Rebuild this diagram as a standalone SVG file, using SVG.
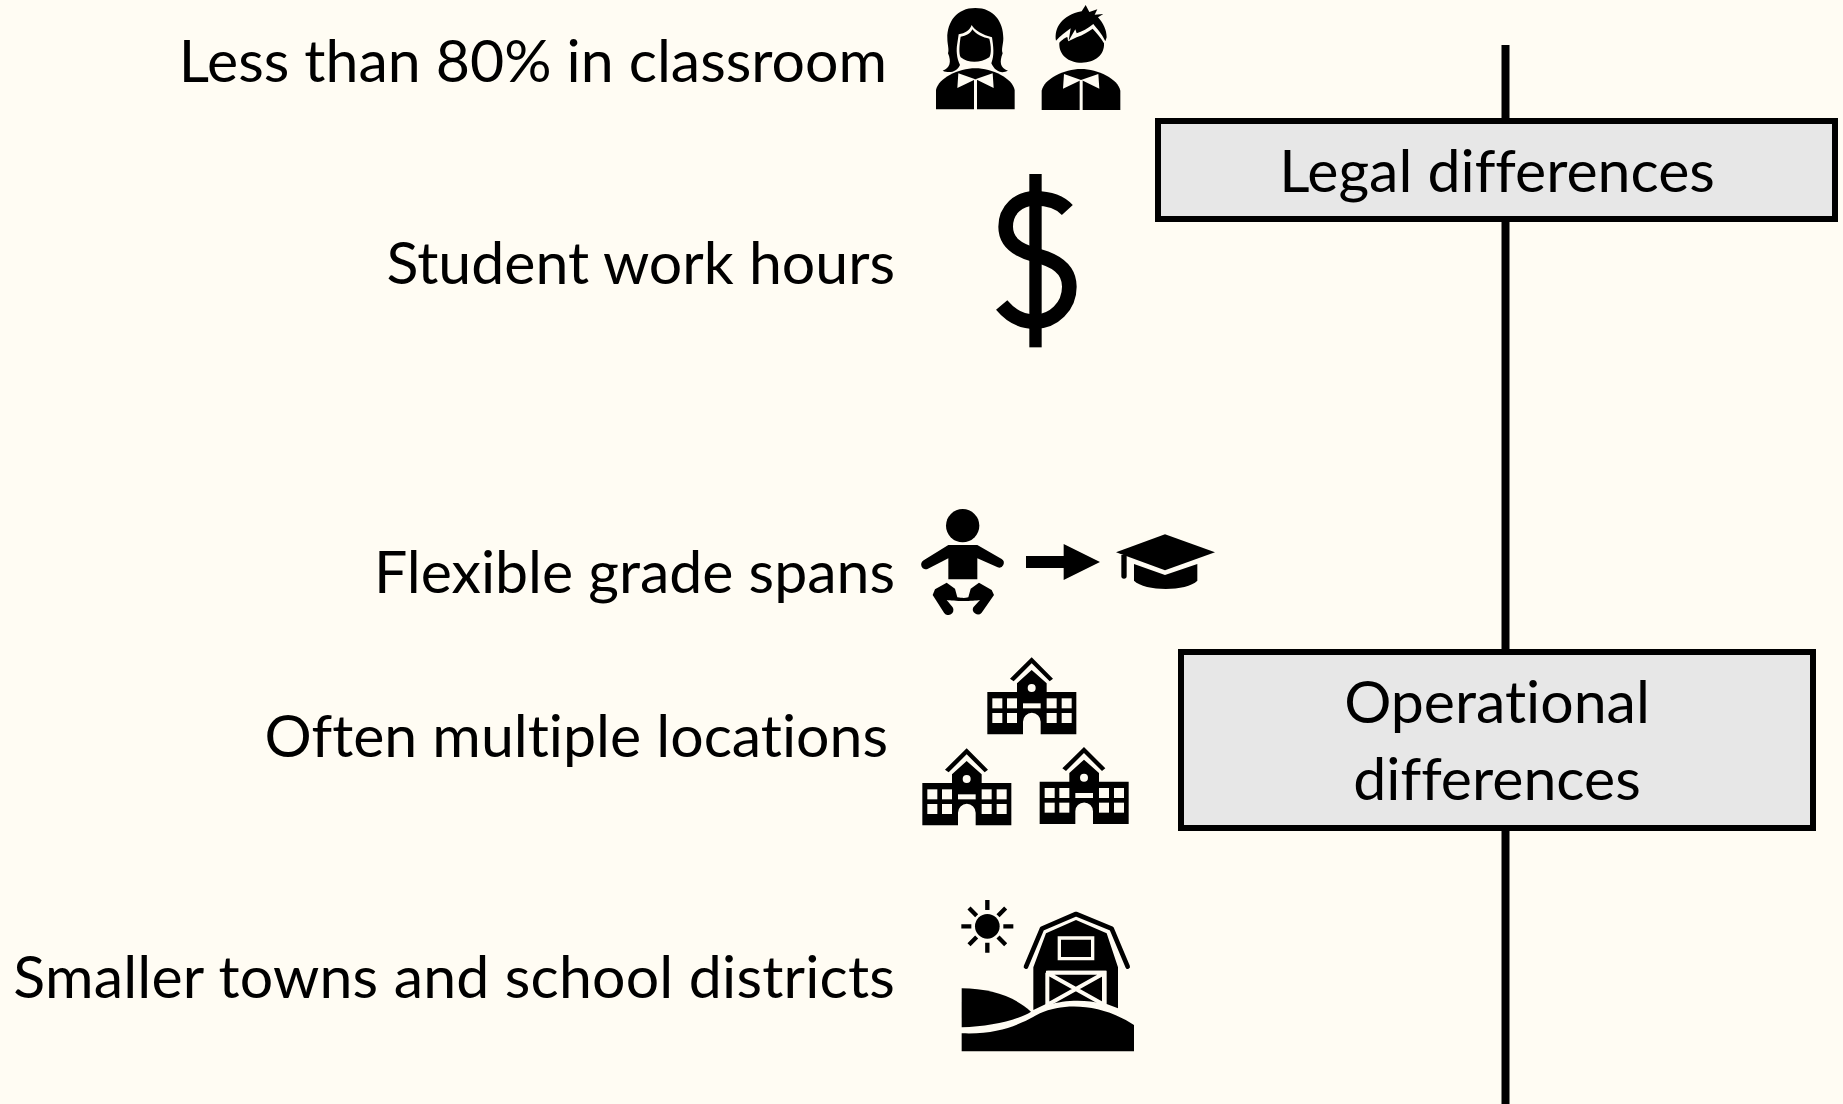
<svg xmlns="http://www.w3.org/2000/svg" width="1843" height="1104" viewBox="0 0 1843 1104">
<style>
text{font-family:"Lato","Liberation Sans",sans-serif;font-size:59px;fill:#000;font-variant-ligatures:none}
.l{text-anchor:end}
.c{text-anchor:middle}
.box{fill:#e7e7e7;stroke:#000;stroke-width:6}
.ln{stroke:#000;stroke-width:8;fill:none}
.w{fill:#fffcf3}
.wl{fill:none;stroke:#fffcf3}
</style>
<defs>
<g id="school">
<path d="M330 116L395 52L459 116L449 124L395 70L341 124Z"/>
<path d="M262 156H351V130L395 90L440 130V156H529V283H422V245A26 26 0 0 0 369 245V283H262Z"/>
<g class="w"><circle cx="395" cy="144" r="12"/><rect x="369" y="190" width="53" height="15"/>
<rect x="277" y="175" width="30" height="30"/><rect x="321" y="175" width="30" height="30"/><rect x="277" y="219" width="30" height="30"/><rect x="321" y="219" width="30" height="30"/>
<rect x="440" y="175" width="30" height="30"/><rect x="485" y="175" width="30" height="30"/><rect x="440" y="219" width="30" height="30"/><rect x="485" y="219" width="30" height="30"/></g>
</g>
<g id="torso"><path d="M108 328V270C115 235 175 205 226 205C277 205 337 235 344 270V328Z"/><path class="w" d="M226 238L175 220L172 264L222 240ZM226 238L278 220L281 264L232 240Z"/><rect class="w" x="222" y="238" width="9" height="92"/></g>
</defs>
<rect width="1843" height="1104" fill="#fffcf3"/>
<g id="connectors"><path class="ln" d="M1505.500 45V1104"/></g>
<g id="legal"><rect class="box" x="1158" y="121" width="677" height="98"/><text class="c" x="1497" y="192">Legal differences</text></g>
<g id="operational"><rect class="box" x="1181" y="652" width="632" height="176"/><text class="c" x="1497" y="723">Operational</text><text class="c" x="1497" y="800">differences</text></g>
<g id="n1"><text class="l" x="887" y="82">Less than 80% in classroom</text>
<g transform="translate(900,0) scale(.33333)">
<path d="M226 24C170 24 142 65 142 115C142 135 148 148 144 160C155 185 150 205 128 212C150 222 172 214 180 195C170 175 168 150 172 130L176 103C195 100 210 90 215 75C222 90 250 105 276 112C280 140 284 165 274 190C285 215 305 222 324 212C300 205 298 185 308 160C303 148 310 135 310 115C310 65 282 24 226 24Z"/>
<path d="M182 110C198 108 212 100 217 88C228 103 250 113 268 116C274 140 274 160 268 172C240 190 205 190 182 172C176 160 178 135 182 110Z"/>
<use href="#torso"/></g>
<g transform="translate(900,0) scale(.33333)">
<path d="M557 15L568 36L592 28L584 44L610 42L594 52C610 70 620 90 620 112L616 124C605 100 590 85 580 72C565 85 545 95 530 100L526 88L506 122L512 85C498 95 480 108 468 122C462 85 485 45 545 34Z"/>
<path d="M478 128C492 115 505 105 503 118L505 124L530 112C550 105 565 95 578 86C590 100 605 115 612 130C614 165 585 188 545 188C505 188 476 165 478 128Z"/>
<use href="#torso" x="317" y="2"/></g></g>
<g id="n2"><text class="l" x="895" y="284">Student work hours</text>
<g transform="translate(980,160) scale(.33333)"><rect x="148" y="42" width="37" height="520"/>
<path d="M262 150C235 120 200 115 165 115C115 115 77 150 77 200C77 245 110 270 165 285C225 300 268 325 268 380C268 440 220 485 165 485C125 485 90 465 65 435" fill="none" stroke="#000" stroke-width="44"/></g></g>
<g id="n3"><text class="l" x="895" y="593">Flexible grade spans</text>
<g transform="translate(900,490) scale(.33333)">
<circle cx="188" cy="107" r="50"/>
<path d="M145 165H232L305 207A14 14 0 0 1 293 232L232 205V268H145V205L84 236A14 14 0 0 1 71 211Z"/>
<path d="M140 278L165 296L172 322C195 326 205 322 205 322L212 296L237 278L275 300L282 315L245 368A15 15 0 0 1 220 352L240 330C220 334 160 334 140 330L158 352A15 15 0 0 1 132 368L98 315L105 298Z"/>
<path d="M378 198H491V162L600 216L491 270V234H378Z"/>
<path d="M648 187L795 133L945 187L795 241Z"/>
<path d="M664 195H680V258A8 8 0 0 1 664 258Z"/>
<path d="M702 222L795 255L892 222V272C860 305 735 305 702 272Z"/>
</g></g>
<g id="n4"><text class="l" x="888" y="757">Often multiple locations</text>
<g transform="translate(900,640) scale(.33333)"><use href="#school"/><use href="#school" x="-195" y="273"/><use href="#school" x="157" y="269"/></g></g>
<g id="n5"><text class="l" x="895" y="998" style="letter-spacing:.2px">Smaller towns and school districts</text>
<g transform="translate(940,880) scale(.33333)">
<circle cx="142" cy="139" r="37"/>
<path d="M142 60V90M142 188V218M64 139H94M190 139H220M87 84L110 107M174 171L197 194M197 84L174 107M110 171L87 194" stroke="#000" stroke-width="13" fill="none"/>
<path d="M258 260L306 146L408 102L515 146L563 260" fill="none" stroke="#000" stroke-width="14" stroke-linecap="round" stroke-linejoin="round"/>
<path d="M280 262L318 160L408 120L500 160L534 262V385L500 372V272H318V372L280 390Z"/>
<path class="wl" d="M358 174H458V236H358Z" stroke-width="10"/>
<path d="M327 282H488V372C440 358 370 360 327 375Z"/>
<path class="wl" d="M327 282L488 372M488 282L327 372M322 278H492V375M322 278V375" stroke-width="12"/>
<path d="M65 325C150 325 225 350 273 395C235 420 150 440 65 442Z"/>
<path d="M65 460C180 465 245 430 300 400C380 365 490 375 582 435V514H65Z"/>
</g></g>
</svg>
